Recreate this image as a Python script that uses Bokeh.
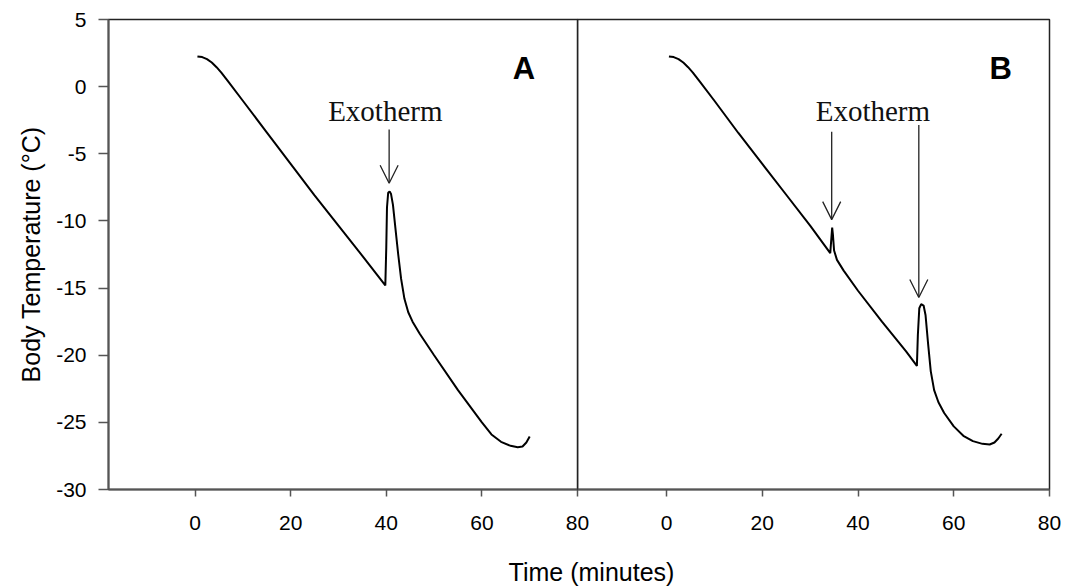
from bokeh.plotting import figure
from bokeh.layouts import row, column
from bokeh.models import (Arrow, OpenHead, Label, FixedTicker, Range1d, ColumnDataSource,
                          PrintfTickFormatter)
from bokeh.embed import file_html
from bokeh.resources import INLINE

# ---------------- data ----------------
time_a = [0.5, 1.5, 2.5, 3.5, 4.5, 5.5, 7, 10, 15, 20, 25, 30, 35, 39.8,
          40.0, 40.15, 40.4, 40.7, 41.0, 41.4, 41.9, 42.5, 43.1, 43.8, 44.6,
          45.5, 47, 50, 55, 60, 62, 64, 66, 67.5, 68.5, 69.3, 70]
temp_a = [2.25, 2.2, 2.05, 1.8, 1.45, 1.05, 0.35, -1.05, -3.4, -5.75, -8.1,
          -10.35, -12.6, -14.8, -12.0, -9.0, -7.9, -7.8, -8.0, -8.8, -10.5,
          -12.5, -14.3, -15.8, -16.8, -17.5, -18.4, -20.0, -22.6, -25.0,
          -25.9, -26.45, -26.75, -26.85, -26.8, -26.5, -26.05]

time_b = [0.5, 1.5, 2.5, 3.5, 4.5, 5.5, 7, 10, 15, 20, 25, 30, 34.2, 34.45,
          34.6, 34.75, 35.0, 35.6, 37, 40, 45, 50, 52.3, 52.5, 52.8, 53.2,
          53.7, 54.1, 54.6, 55.2, 55.9, 56.8, 58, 60, 62, 64, 66, 67.5, 68.5,
          69.3, 70]
temp_b = [2.25, 2.2, 2.05, 1.8, 1.45, 1.05, 0.35, -1.05, -3.45, -5.75, -8.05,
          -10.35, -12.4, -11.2, -10.5, -11.0, -12.2, -12.9, -13.7, -15.2,
          -17.5, -19.7, -20.8, -18.5, -16.5, -16.2, -16.3, -17.0, -19.0,
          -21.2, -22.6, -23.5, -24.3, -25.3, -26.0, -26.4, -26.6, -26.65,
          -26.5, -26.2, -25.85]

x_ticks = [0, 20, 40, 60, 80]
y_ticks = [-30, -25, -20, -15, -10, -5, 0, 5]

# exotherm arrows (x, start y, end y)
arrow_a_x = [40.6]
arrow_a_y0 = [-3.2]
arrow_a_y1 = [-7.2]
arrow_b_x = [34.5, 52.7]
arrow_b_y0 = [-3.35, -2.85]
arrow_b_y1 = [-9.9, -15.7]

panel_labels = ["A", "B"]
exo_label = "Exotherm"
x_title = "Time (minutes)"
y_title = "Body Temperature (°C)"

SANS = "Liberation Sans"
SERIF = "Liberation Serif"


def style_axes(p):
    p.grid.visible = False
    p.outline_line_color = "#222222"
    p.outline_line_width = 1.5
    for ax in p.axis:
        ax.axis_line_color = "#555555"
        ax.axis_line_width = 2
        ax.major_tick_line_color = "#555555"
        ax.major_tick_line_width = 1.5
        ax.minor_tick_line_color = None
        ax.major_tick_in = 0
        ax.major_label_text_font = SANS
        ax.major_label_text_font_size = "21px"
        ax.major_label_text_color = "black"
        ax.formatter = PrintfTickFormatter(format="%d")
    p.xaxis.ticker = FixedTicker(ticks=x_ticks)
    p.xaxis.major_tick_out = 7
    p.xaxis.major_label_standoff = 19
    p.yaxis.ticker = FixedTicker(ticks=y_ticks)
    p.yaxis.major_tick_out = 10
    p.yaxis.major_label_standoff = 12


# ---------------- left panel ----------------
p1 = figure(width=591, height=541, x_range=Range1d(-18.1, 80), y_range=Range1d(-30, 5),
            output_backend="svg", toolbar_location=None,
            min_border_left=108, min_border_right=14, min_border_top=19, min_border_bottom=52)
style_axes(p1)
p1.yaxis.axis_label = y_title
p1.yaxis.axis_label_text_font = SANS
p1.yaxis.axis_label_text_font_size = "25px"
p1.yaxis.axis_label_text_font_style = "normal"
p1.yaxis.axis_label_text_color = "black"
p1.yaxis.axis_label_standoff = 8

p1.line(time_a, temp_a, line_color="black", line_width=2)
src_a = ColumnDataSource(dict(x=arrow_a_x, y0=arrow_a_y0, y1=arrow_a_y1))
p1.add_layout(Arrow(x_start="x", y_start="y0", x_end="x", y_end="y1", source=src_a,
                    line_color="#222222", line_width=1.3,
                    end=OpenHead(size=18, line_color="#222222", line_width=1.3)))
p1.add_layout(Label(x=39.8, y=-1.8, text=exo_label, text_align="center",
                    text_baseline="alphabetic", text_font=SERIF, text_font_size="29px",
                    text_color="#111111"))
p1.add_layout(Label(x=68.8, y=1.35, text=panel_labels[0], text_align="center",
                    text_baseline="middle", text_font=SANS, text_font_size="31px",
                    text_font_style="bold", text_color="black"))

# ---------------- right panel ----------------
p2 = figure(width=486, height=541, x_range=Range1d(-18.6, 80), y_range=Range1d(-30, 5),
            output_backend="svg", toolbar_location=None,
            min_border_left=0, min_border_right=14, min_border_top=19, min_border_bottom=52,
            margin=(0, 0, 0, -14))
style_axes(p2)
p2.yaxis.visible = False
p2.background_fill_color = None
p2.border_fill_color = None

p2.line(time_b, temp_b, line_color="black", line_width=2)
src_b = ColumnDataSource(dict(x=arrow_b_x, y0=arrow_b_y0, y1=arrow_b_y1))
p2.add_layout(Arrow(x_start="x", y_start="y0", x_end="x", y_end="y1", source=src_b,
                    line_color="#222222", line_width=1.3,
                    end=OpenHead(size=18, line_color="#222222", line_width=1.3)))
p2.add_layout(Label(x=43.1, y=-1.8, text=exo_label, text_align="center",
                    text_baseline="alphabetic", text_font=SERIF, text_font_size="29px",
                    text_color="#111111"))
p2.add_layout(Label(x=69.8, y=1.35, text=panel_labels[1], text_align="center",
                    text_baseline="middle", text_font=SANS, text_font_size="31px",
                    text_font_style="bold", text_color="black"))

# ---------------- shared x title ----------------
p3 = figure(width=1063, height=45, x_range=Range1d(0, 1), y_range=Range1d(0, 1),
            output_backend="svg", toolbar_location=None, min_border=0)
p3.title.visible = False
p3.axis.visible = False
p3.grid.visible = False
p3.outline_line_color = None
p3.add_layout(Label(x=591, y=15, x_units="screen", y_units="screen", text=x_title,
                    text_align="center", text_baseline="alphabetic", text_font=SANS,
                    text_font_size="25px", text_color="black"))

layout = column(row(p1, p2), p3)
open("out.html", "w").write(file_html(layout, INLINE))
